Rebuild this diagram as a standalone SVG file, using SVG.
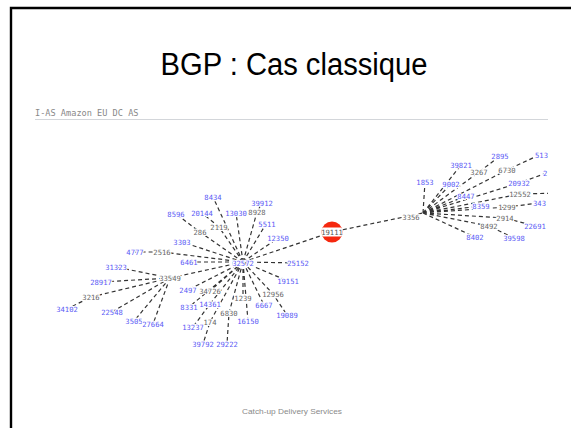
<svg xmlns="http://www.w3.org/2000/svg" width="571" height="428" viewBox="0 0 571 428">
<style>
.e{stroke:#333;stroke-width:1.2;stroke-dasharray:4 3;fill:none}
.t{font-family:"DejaVu Sans Mono","Liberation Mono",monospace;font-size:7.2px;text-anchor:middle;stroke:#fff;stroke-width:2.2;paint-order:stroke;stroke-linejoin:round}
.s{text-anchor:start}
.b{fill:#5a5af5}
.g{fill:#666}
</style>
<defs>
<clipPath id="panel"><rect x="30" y="120" width="518" height="260"/></clipPath>
<clipPath id="rc"><circle cx="332" cy="232" r="10.5"/></clipPath>
</defs>
<rect x="0" y="0" width="571" height="428" fill="#fff"/>
<path d="M11 440 V8 H580" fill="none" stroke="#000" stroke-width="2.4"/>
<text x="294" y="75" font-family="Liberation Sans, Arial, sans-serif" font-size="31" text-anchor="middle" textLength="267" lengthAdjust="spacingAndGlyphs" fill="#000">BGP : Cas classique</text>
<text x="35" y="116" font-family="DejaVu Sans Mono, monospace" font-size="8.6" fill="#888">I-AS Amazon EU DC AS</text>
<line x1="35" y1="119.5" x2="548" y2="119.5" stroke="#d3d6da" stroke-width="1.2"/>
<g clip-path="url(#panel)">
<g id="edges">
<path class="e" d="M243 262L213 197M243 262L257 212L262 203M243 262L236 213M243 262L266 224M243 262L278 238M243 262L200 232L176 214M243 262L219 227L202 213M243 262L182 242M243 262L162 252L135 252M243 262L189 262M243 262L298 263M243 262L288 281M243 262L170 278M170 278L116 267M170 278L101 282M170 278L91 297L67 309M170 278L112 312M170 278L134 321M170 278L153 324M243 262L188 290M243 262L210 291M243 262L189 307M243 262L210 304L193 327M243 262L210 322L203 344M243 262L229 313L227 344M243 262L243 298M243 262L248 321M243 262L273 294L287 315M243 262L264 305M243 262L332 232L423 213"/>
<path class="e" d="M423 213L425 182M423 213L461 165M423 213L451 184M423 213L479 172L500 156M423 213L507 170L537 156M423 213L519 183L544 174M423 213L466 196M423 213L520 194L560 193M423 213L481 206M423 213L507 207L539 203M423 213L505 218L535 226M423 213L489 226L514 238M423 213L475 237"/>
</g>
<g id="n32572"><text class="t b" x="243" y="265.5">32572</text></g>
<g id="n8434"><text class="t b" x="213" y="199.5">8434</text></g>
<g id="n39912"><text class="t b" x="262" y="205.5">39912</text></g>
<g id="n13030"><text class="t b" x="236" y="215.5">13030</text></g>
<g id="n8928"><text class="t g" x="257" y="214.5">8928</text></g>
<g id="n5511"><text class="t b" x="267" y="226.5">5511</text></g>
<g id="n12350"><text class="t b" x="278" y="240.5">12350</text></g>
<g id="n8596"><text class="t b" x="176" y="216.5">8596</text></g>
<g id="n20144"><text class="t b" x="202" y="215.5">20144</text></g>
<g id="n286"><text class="t g" x="200" y="234.5">286</text></g>
<g id="n2119"><text class="t g" x="219" y="229.5">2119</text></g>
<g id="n3303"><text class="t b" x="182" y="244.5">3303</text></g>
<g id="n2516"><text class="t g" x="162" y="254.5">2516</text></g>
<g id="n4777"><text class="t b" x="135" y="254.5">4777</text></g>
<g id="n6461"><text class="t b" x="189" y="264.5">6461</text></g>
<g id="n25152"><text class="t b" x="298" y="265.5">25152</text></g>
<g id="n19151"><text class="t b" x="288" y="283.5">19151</text></g>
<g id="n33549"><text class="t g" x="170" y="280.5">33549</text></g>
<g id="n31323"><text class="t b" x="116" y="269.5">31323</text></g>
<g id="n28917"><text class="t b" x="101" y="284.5">28917</text></g>
<g id="n3216"><text class="t g" x="91" y="299.5">3216</text></g>
<g id="n34102"><text class="t b" x="67" y="311.5">34102</text></g>
<g id="n22548"><text class="t b" x="112" y="314.5">22548</text></g>
<g id="n3505"><text class="t b" x="134" y="323.5">3505</text></g>
<g id="n27664"><text class="t b" x="153" y="326.5">27664</text></g>
<g id="n2497"><text class="t b" x="188" y="292.5">2497</text></g>
<g id="n34726"><text class="t g" x="210" y="293.5">34726</text></g>
<g id="n8331"><text class="t b" x="189" y="309.5">8331</text></g>
<g id="n14361"><text class="t b" x="210" y="306.5">14361</text></g>
<g id="n13237"><text class="t b" x="193" y="329.5">13237</text></g>
<g id="n174"><text class="t g" x="210" y="324.5">174</text></g>
<g id="n39792"><text class="t b" x="203" y="346.5">39792</text></g>
<g id="n29222"><text class="t b" x="227" y="346.5">29222</text></g>
<g id="n6830"><text class="t g" x="229" y="315.5">6830</text></g>
<g id="n1239"><text class="t g" x="243" y="300.5">1239</text></g>
<g id="n16150"><text class="t b" x="248" y="323.5">16150</text></g>
<g id="n12956"><text class="t g" x="273" y="296.5">12956</text></g>
<g id="n6667"><text class="t b" x="264" y="307.5">6667</text></g>
<g id="n19089"><text class="t b" x="287" y="317.5">19089</text></g>
<g id="n19111">
<circle cx="332" cy="232" r="10.5" fill="#f5280f"/>
<rect x="320" y="227.5" width="24" height="9" fill="#fff" clip-path="url(#rc)"/>
<text x="332" y="234.5" font-family="DejaVu Sans Mono, monospace" font-size="7.2" text-anchor="middle" fill="#555">19111</text>
</g>
<g id="n3356"><text class="t g" x="411" y="219.5">3356</text></g>
<g id="n1853"><text class="t b" x="425" y="184.5">1853</text></g>
<g id="n39821"><text class="t b" x="461" y="167.5">39821</text></g>
<g id="n2895"><text class="t b" x="500" y="158.5">2895</text></g>
<g id="n513"><text class="t b s" x="535" y="157.5">513</text></g>
<g id="n3267"><text class="t g" x="479" y="174.5">3267</text></g>
<g id="n6730"><text class="t g" x="507" y="172.5">6730</text></g>
<g id="n9002"><text class="t b" x="451" y="186.5">9002</text></g>
<g id="n20932"><text class="t b" x="519" y="185.5">20932</text></g>
<g id="n2"><text class="t b s" x="543" y="175.5">2</text></g>
<g id="n8447"><text class="t b" x="466" y="198.5">8447</text></g>
<g id="n12552"><text class="t g" x="520" y="196.5">12552</text></g>
<g id="n8359"><text class="t b" x="481" y="208.5">8359</text></g>
<g id="n1299"><text class="t g" x="507" y="209.5">1299</text></g>
<g id="n343"><text class="t b" x="539.5" y="205.5">343</text></g>
<g id="n2914"><text class="t g" x="505" y="220.5">2914</text></g>
<g id="n22691"><text class="t b" x="535" y="228.5">22691</text></g>
<g id="n8492"><text class="t g" x="489" y="228.5">8492</text></g>
<g id="n8402"><text class="t b" x="475" y="239.5">8402</text></g>
<g id="n39598"><text class="t b" x="514" y="240.5">39598</text></g>
</g>
<text x="292" y="414" font-family="Liberation Sans, Arial, sans-serif" font-size="8" text-anchor="middle" textLength="100" lengthAdjust="spacingAndGlyphs" fill="#8a8a8a">Catch-up Delivery Services</text>
</svg>
